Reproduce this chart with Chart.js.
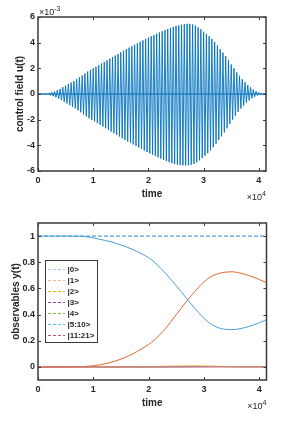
<!DOCTYPE html>
<html>
<head>
<meta charset="utf-8">
<script src="https://cdn.jsdelivr.net/npm/chart.js@4.4.1/dist/chart.umd.min.js"></script>
<style>
  html, body { margin: 0; padding: 0; background: #fff; }
  .panel { position: absolute; left: 0; width: 294px; }
  #top { top: 0; height: 213px; }
  #bottom { top: 213px; height: 214px; }
</style>
</head>
<body>
<div class="panel" id="top"><canvas id="fieldChart" width="294" height="213"></canvas></div>
<div class="panel" id="bottom"><canvas id="obsChart" width="294" height="214"></canvas></div>
<script>
// control field u(t), one sample every half period (values in units of 1e-3)
const fieldTime = [0, 250, 500, 750, 1000, 1250, 1500, 1750, 2000, 2250,
  2500, 2750, 3000, 3250, 3500, 3750, 4000, 4250, 4500, 4750,
  5000, 5250, 5500, 5750, 6000, 6250, 6500, 6750, 7000, 7250,
  7500, 7750, 8000, 8250, 8500, 8750, 9000, 9250, 9500, 9750,
  10000, 10250, 10500, 10750, 11000, 11250, 11500, 11750, 12000, 12250,
  12500, 12750, 13000, 13250, 13500, 13750, 14000, 14250, 14500, 14750,
  15000, 15250, 15500, 15750, 16000, 16250, 16500, 16750, 17000, 17250,
  17500, 17750, 18000, 18250, 18500, 18750, 19000, 19250, 19500, 19750,
  20000, 20250, 20500, 20750, 21000, 21250, 21500, 21750, 22000, 22250,
  22500, 22750, 23000, 23250, 23500, 23750, 24000, 24250, 24500, 24750,
  25000, 25250, 25500, 25750, 26000, 26250, 26500, 26750, 27000, 27250,
  27500, 27750, 28000, 28250, 28500, 28750, 29000, 29250, 29500, 29750,
  30000, 30250, 30500, 30750, 31000, 31250, 31500, 31750, 32000, 32250,
  32500, 32750, 33000, 33250, 33500, 33750, 34000, 34250, 34500, 34750,
  35000, 35250, 35500, 35750, 36000, 36250, 36500, 36750, 37000, 37250,
  37500, 37750, 38000, 38250, 38500, 38750, 39000, 39250, 39500, 39750,
  40000, 40250, 40500, 40750, 41000, 41250, 41300];
const fieldValues = [0, -0.005, 0.01, -0.016, 0.02, -0.036, 0.05, -0.068, 0.08, -0.115,
  0.14, -0.18, 0.2, -0.26, 0.3, -0.365, 0.4, -0.48, 0.52, -0.61,
  0.65, -0.74, 0.78, -0.875, 0.9, -1.0, 1.02, -1.12, 1.15, -1.27,
  1.3, -1.43, 1.45, -1.59, 1.6, -1.74, 1.75, -1.89, 1.88, -2.02,
  2.0, -2.14, 2.12, -2.27, 2.25, -2.4, 2.38, -2.54, 2.5, -2.67,
  2.62, -2.79, 2.75, -2.93, 2.88, -3.06, 3.0, -3.18, 3.12, -3.31,
  3.25, -3.45, 3.38, -3.58, 3.5, -3.7, 3.61, -3.81, 3.72, -3.93,
  3.84, -4.05, 3.95, -4.17, 4.07, -4.29, 4.18, -4.41, 4.29, -4.52,
  4.4, -4.63, 4.5, -4.73, 4.6, -4.84, 4.7, -4.94, 4.8, -5.04,
  4.89, -5.13, 4.98, -5.22, 5.07, -5.31, 5.15, -5.39, 5.23, -5.46,
  5.3, -5.51, 5.35, -5.54, 5.4, -5.56, 5.44, -5.56, 5.47, -5.55,
  5.46, -5.52, 5.42, -5.45, 5.33, -5.33, 5.2, -5.17, 5.04, -4.99,
  4.85, -4.8, 4.68, -4.61, 4.5, -4.39, 4.29, -4.15, 4.05, -3.88,
  3.78, -3.59, 3.5, -3.3, 3.23, -3.0, 2.95, -2.67, 2.63, -2.33,
  2.3, -2.0, 2.0, -1.7, 1.7, -1.4, 1.42, -1.13, 1.15, -0.9,
  0.92, -0.68, 0.7, -0.5, 0.52, -0.34, 0.35, -0.22, 0.22, -0.13,
  0.12, -0.07, 0.07, -0.04, 0.03, -0.01, 0];
const zeroTime = [0, 41300];
const zeroValues = [0, 0];

const timeTicks = [0, 10000, 20000, 30000, 40000];
const fieldTicks = [-6, -4, -2, 0, 2, 4, 6];
const obsTicks = [0, 0.2, 0.4, 0.6, 0.8, 1];

// observables y(t)
const obsTime = [0, 1000, 2000, 3000, 4000, 5000, 6000, 7000, 8000, 9000,
  10000, 11000, 12000, 13000, 14000, 15000, 16000, 17000, 18000, 19000,
  20000, 21000, 22000, 23000, 24000, 25000, 26000, 27000, 28000, 29000,
  30000, 31000, 32000, 33000, 34000, 35000, 36000, 37000, 38000, 39000,
  40000, 41000, 41300];
const pop0 = [1, 1, 1, 1, 1, 1, 0.9995, 0.999, 0.997, 0.993,
  0.986, 0.977, 0.968, 0.958, 0.946, 0.932, 0.917, 0.9, 0.88, 0.859,
  0.835, 0.802, 0.762, 0.718, 0.67, 0.62, 0.568, 0.516, 0.465, 0.416,
  0.372, 0.336, 0.31, 0.294, 0.287, 0.285, 0.288, 0.296, 0.308, 0.322,
  0.338, 0.355, 0.36];
const pop1 = [0, 0, 0, 0, 0, 0, 0.0005, 0.001, 0.002, 0.005,
  0.009, 0.015, 0.023, 0.033, 0.045, 0.06, 0.077, 0.097, 0.12, 0.145,
  0.172, 0.205, 0.245, 0.292, 0.345, 0.4, 0.455, 0.51, 0.56, 0.608,
  0.65, 0.683, 0.705, 0.718, 0.725, 0.727, 0.722, 0.713, 0.7, 0.685,
  0.668, 0.65, 0.644];
const minorTime = [0, 10000, 20000, 24000, 28000, 32000, 36000, 41300];
const pop2 = [0, 0, 0.002, 0.006, 0.008, 0.005, 0.002, 0.001];
const pop3 = [0, 0, 0, 0.001, 0.002, 0.002, 0.001, 0.001];
const pop4 = [0, 0, 0, 0.001, 0.002, 0.004, 0.002, 0.001];
const pop5to10 = [0, 0, 0, 0, 0.001, 0.003, 0.002, 0.002];
const pop11to21 = [0, 0, 0, 0, 0, 0, 0, 0];
const normTime = [0, 41300];
const normValues = [1, 1];

const stateLabels = ['|0>', '|1>', '|2>', '|3>', '|4>', '|5:10>', '|11:21>'];

const axisColor = '#3a3a3a';
const textColor = '#262626';
const fontFamily = '"Liberation Sans", Arial, sans-serif';
Chart.defaults.font.family = fontFamily;
Chart.defaults.color = textColor;

function xy(ts, vs) {
  return ts.map((t, i) => ({ x: t, y: vs[i] }));
}

function drawExponent(ctx, x, y, exp, align) {
  ctx.font = '9px ' + fontFamily;
  const base = '\u00d710';
  const bw = ctx.measureText(base).width;
  ctx.font = '7px ' + fontFamily;
  const ew = ctx.measureText(exp).width;
  const left = align === 'right' ? x - bw - ew : x;
  ctx.fillStyle = textColor;
  ctx.textAlign = 'left';
  ctx.textBaseline = 'alphabetic';
  ctx.font = '9px ' + fontFamily;
  ctx.fillText(base, left, y);
  ctx.font = '7px ' + fontFamily;
  ctx.fillText(exp, left + bw, y - 4);
}

// matlab style box with inward ticks and the x10^n labels
function boxPlugin(yExp) {
  return {
    id: 'matlabBox',
    afterDraw(chart) {
      const { ctx, chartArea: a, scales } = chart;
      ctx.save();
      ctx.strokeStyle = axisColor;
      ctx.lineWidth = 1;
      ctx.beginPath();
      scales.x.ticks.forEach(t => {
        const px = Math.round(scales.x.getPixelForValue(t.value)) + 0.5;
        ctx.moveTo(px, a.bottom); ctx.lineTo(px, a.bottom - 3);
        ctx.moveTo(px, a.top); ctx.lineTo(px, a.top + 3);
      });
      scales.y.ticks.forEach(t => {
        const py = Math.round(scales.y.getPixelForValue(t.value)) + 0.5;
        ctx.moveTo(a.left, py); ctx.lineTo(a.left + 3, py);
        ctx.moveTo(a.right, py); ctx.lineTo(a.right - 3, py);
      });
      ctx.stroke();
      ctx.lineWidth = 1.5;
      ctx.strokeRect(a.left, a.top, a.right - a.left, a.bottom - a.top);
      drawExponent(ctx, a.right, a.bottom + 29, '4', 'right');
      if (yExp) drawExponent(ctx, a.left + 1, a.top - 2, yExp, 'left');
      ctx.restore();
    }
  };
}

const legendPlugin = {
  id: 'stateLegend',
  afterDraw(chart) {
    const { ctx, chartArea: a } = chart;
    const items = chart.data.datasets.filter(d => d.legendColor);
    const x = a.left + 7, y = a.top + 37, w = 52, h = 82;
    ctx.save();
    ctx.fillStyle = '#fff';
    ctx.fillRect(x, y, w, h);
    ctx.strokeStyle = axisColor;
    ctx.lineWidth = 1;
    ctx.strokeRect(x + 0.5, y + 0.5, w, h);
    ctx.font = 'bold 8px ' + fontFamily;
    ctx.textBaseline = 'middle';
    ctx.textAlign = 'left';
    items.forEach((d, i) => {
      const cy = y + 9.5 + i * 11;
      ctx.setLineDash([3, 2]);
      ctx.lineWidth = 1.2;
      ctx.strokeStyle = d.legendColor;
      ctx.beginPath();
      ctx.moveTo(x + 3, cy);
      ctx.lineTo(x + 20, cy);
      ctx.stroke();
      ctx.setLineDash([]);
      ctx.fillStyle = textColor;
      ctx.fillText(d.label, x + 22.5, cy);
    });
    ctx.restore();
  }
};

function xScale(min, max) {
  return {
    type: 'linear', min: min, max: max,
    grid: { display: false, drawTicks: false }, border: { display: false },
    afterBuildTicks: s => { s.ticks = timeTicks.map(v => ({ value: v })); },
    afterFit: s => { s.height = 42; },
    ticks: { padding: 4, font: { size: 9, weight: 'bold' }, color: textColor, callback: v => v / 10000 },
    title: { display: true, text: 'time', font: { size: 10, weight: 'bold' }, color: textColor, padding: { top: 0, bottom: 12.5 } }
  };
}

function yScale(min, max, ticks, label, titlePad) {
  return {
    min: min, max: max,
    grid: { display: false, drawTicks: false }, border: { display: false },
    afterBuildTicks: s => { s.ticks = ticks.map(v => ({ value: v })); },
    afterFit: s => { s.width = 38; },
    ticks: { padding: 3, font: { size: 9, weight: 'bold' }, color: textColor, callback: v => String(v) },
    title: { display: true, text: label, font: { size: 10, weight: 'bold' }, color: textColor, padding: { top: titlePad, bottom: 0 } }
  };
}

new Chart(document.getElementById('fieldChart'), {
  type: 'line',
  data: {
    datasets: [
      { data: xy(fieldTime, fieldValues), borderColor: '#0072bd', borderWidth: 0.9, pointRadius: 0 },
      { data: xy(zeroTime, zeroValues), borderColor: '#0068b0', borderWidth: 1, pointRadius: 0 }
    ]
  },
  options: {
    responsive: false,
    animation: false,
    layout: { padding: { left: 0, right: 28, top: 17, bottom: 0 } },
    plugins: { legend: { display: false }, tooltip: { enabled: false } },
    scales: {
      x: xScale(0, 41300),
      y: yScale(-6, 6, fieldTicks, 'control field u(t)', 14)
    }
  },
  plugins: [boxPlugin('-3')]
});

const lineStyle = { borderWidth: 1, pointRadius: 0, cubicInterpolationMode: 'monotone' };

new Chart(document.getElementById('obsChart'), {
  type: 'line',
  data: {
    datasets: [
      { label: stateLabels[0], data: xy(obsTime, pop0), borderColor: '#4a9fd9', legendColor: '#a0cdef', ...lineStyle },
      { label: stateLabels[1], data: xy(obsTime, pop1), borderColor: '#e2672f', legendColor: '#f3b598', ...lineStyle },
      { label: stateLabels[2], data: xy(minorTime, pop2), borderColor: '#edb120', legendColor: '#edb120', ...lineStyle },
      { label: stateLabels[3], data: xy(minorTime, pop3), borderColor: '#9a5aa8', legendColor: '#8e4a9c', ...lineStyle },
      { label: stateLabels[4], data: xy(minorTime, pop4), borderColor: '#9cc56a', legendColor: '#86b84a', ...lineStyle },
      { label: stateLabels[5], data: xy(minorTime, pop5to10), borderColor: '#8fd6f2', legendColor: '#4dbeee', ...lineStyle },
      { label: stateLabels[6], data: xy(minorTime, pop11to21), borderColor: '#c9738f', legendColor: '#c05870', order: -1, ...lineStyle },
      { label: '', data: xy(normTime, normValues), borderColor: '#2f86c8', borderDash: [4, 2], borderWidth: 1, pointRadius: 0 }
    ]
  },
  options: {
    responsive: false,
    animation: false,
    layout: { padding: { left: 0, right: 27.5, top: 10, bottom: 5 } },
    plugins: { legend: { display: false }, tooltip: { enabled: false } },
    scales: {
      x: xScale(0, 41300),
      y: yScale(-0.1, 1.1, obsTicks, 'observables y(t)', 10.5)
    }
  },
  plugins: [boxPlugin(null), legendPlugin]
});
</script>
</body>
</html>
